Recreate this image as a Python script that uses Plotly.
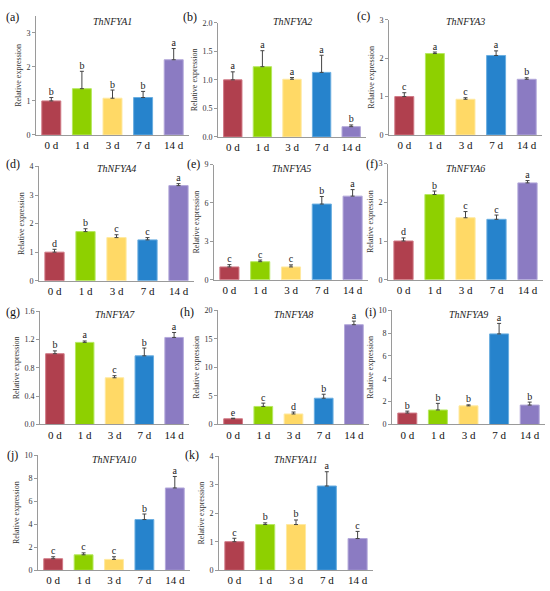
import plotly.graph_objects as go

# categories and bar colours
days = ["0 d", "1 d", "3 d", "7 d", "14 d"]
bar_colors = ["#B0404E", "#8ED000", "#FFD966", "#2683CC", "#8B7BC2"]
edge_colors = ["#D07885", "#B5E860", "#FFE9A0", "#6AAEE0", "#B3A8DA"]

genes = ["ThNFYA1", "ThNFYA2", "ThNFYA3", "ThNFYA4", "ThNFYA5", "ThNFYA6",
         "ThNFYA7", "ThNFYA8", "ThNFYA9", "ThNFYA10", "ThNFYA11"]
panel_labels = ["(a)", "(b)", "(c)", "(d)", "(e)", "(f)", "(g)", "(h)", "(i)", "(j)", "(k)"]

# mean relative expression per gene (0 d, 1 d, 3 d, 7 d, 14 d)
means = [
    [1.00, 1.36, 1.08, 1.10, 2.21],
    [1.00, 1.23, 1.01, 1.13, 0.18],
    [1.00, 2.12, 0.93, 2.07, 1.45],
    [1.00, 1.72, 1.51, 1.43, 3.33],
    [1.00, 1.41, 1.00, 5.91, 6.53],
    [1.00, 2.20, 1.60, 1.56, 2.50],
    [1.00, 1.16, 0.66, 0.97, 1.23],
    [1.00, 3.16, 1.84, 4.60, 17.47],
    [1.00, 1.27, 1.63, 7.93, 1.70],
    [1.00, 1.34, 0.94, 4.40, 7.14],
    [1.00, 1.60, 1.60, 2.95, 1.11],
]

# standard deviations (upper error bars)
errors = [
    [0.10, 0.51, 0.24, 0.18, 0.33],
    [0.14, 0.28, 0.03, 0.30, 0.03],
    [0.10, 0.04, 0.04, 0.12, 0.04],
    [0.10, 0.10, 0.10, 0.08, 0.07],
    [0.18, 0.13, 0.16, 0.59, 0.51],
    [0.08, 0.09, 0.16, 0.11, 0.06],
    [0.04, 0.02, 0.03, 0.11, 0.07],
    [0.10, 0.58, 0.34, 0.70, 0.63],
    [0.17, 0.58, 0.09, 0.92, 0.26],
    [0.17, 0.17, 0.23, 0.48, 1.00],
    [0.12, 0.06, 0.16, 0.50, 0.25],
]

# significance letters
letters = [
    ["b", "b", "b", "b", "a"],
    ["a", "a", "a", "a", "b"],
    ["c", "a", "c", "a", "b"],
    ["d", "b", "c", "c", "a"],
    ["c", "c", "c", "b", "a"],
    ["d", "b", "c", "c", "a"],
    ["b", "a", "c", "b", "a"],
    ["e", "c", "d", "b", "a"],
    ["b", "b", "b", "a", "b"],
    ["c", "c", "c", "b", "a"],
    ["c", "b", "b", "a", "c"],
]

# y axis ranges and tick steps
y_max = [3.5, 2.0, 3, 4, 9, 3, 1.6, 20, 10, 10, 4]
y_dtick = [1, 0.5, 1, 1, 3, 1, 0.4, 5, 2, 2, 1]
y_fmt = ["", ".1f", "", "", "", "", ".1f", "", "", "", ""]

# plot area boxes in pixels (left, right, top, bottom)
W, H = 550, 591
boxes = [
    (36, 189, 12, 133), (218, 366, 19, 135), (389, 542, 16, 133),
    (39, 194, 165, 281), (214, 368, 163, 280), (388, 543, 162, 280),
    (40, 189, 312, 427), (218, 369, 311, 427), (392, 545, 311, 427),
    (38, 190, 458, 575), (219, 373, 459, 575),
]
title_y = [18, 18, 18, 167, 167, 167, 315, 315, 315, 463, 463]
label_xy = [(12, 13), (190, 13), (363, 12), (13, 162), (193, 162), (372, 162),
            (13, 313), (187, 313), (370, 313), (12, 458), (192, 458)]

serif = "Liberation Serif"

fig = go.Figure()
annotations = []

for i, gene in enumerate(genes):
    n = "" if i == 0 else str(i + 1)
    xa, ya = "x" + n, "y" + n
    left, right, top, bottom = boxes[i]

    fig.add_trace(go.Bar(
        x=days, y=means[i], xaxis=xa, yaxis=ya,
        marker=dict(color=bar_colors, line=dict(color=edge_colors, width=1)),
        error_y=dict(type="data", symmetric=False, array=errors[i],
                     arrayminus=[0] * 5, color="#444", thickness=1, width=2),
        showlegend=False,
    ))
    tops = [m + e for m, e in zip(means[i], errors[i])]
    fig.add_trace(go.Scatter(
        x=days, y=tops, xaxis=xa, yaxis=ya, mode="text", text=letters[i],
        textposition="top center", textfont=dict(family=serif, size=10, color="#222"),
        cliponaxis=False, showlegend=False, hoverinfo="skip",
    ))

    fig.update_layout(**{
        "xaxis" + n: dict(
            domain=[left / W, right / W], anchor=ya, range=[-0.5, 4.5],
            showline=True, linecolor="#9a9a9a", linewidth=1, ticks="",
            tickfont=dict(family=serif, size=11, color="#111"),
        ),
        "yaxis" + n: dict(
            domain=[1 - bottom / H, 1 - top / H], anchor=xa, range=[0, y_max[i]],
            dtick=y_dtick[i], tick0=0, tickformat=y_fmt[i],
            showline=True, linecolor="#9a9a9a", linewidth=1, showgrid=False,
            zeroline=False, ticks="outside", ticklen=3, tickcolor="#9a9a9a",
            tickfont=dict(family=serif, size=8, color="#333"),
            title=dict(text="Relative expression", standoff=3,
                       font=dict(family=serif, size=8, color="#333")),
        ),
    })

    annotations.append(dict(
        text="<i>" + gene + "</i>", xref="paper", yref="paper",
        x=(left + right) / 2 / W, y=1 - title_y[i] / H, showarrow=False,
        xanchor="center", yanchor="middle",
        font=dict(family=serif, size=10, color="#222"),
    ))
    lx, ly = label_xy[i]
    annotations.append(dict(
        text=panel_labels[i], xref="paper", yref="paper",
        x=lx / W, y=1 - ly / H, showarrow=False,
        xanchor="center", yanchor="middle",
        font=dict(family=serif, size=12, color="#111"),
    ))

fig.update_layout(
    width=W, height=H, margin=dict(l=0, r=0, t=0, b=0),
    paper_bgcolor="white", plot_bgcolor="white",
    bargap=0.38, annotations=annotations,
)

# drop the browser's default page margin so the figure sits at the window corner
fig.write_html("out.html", config={"displayModeBar": False},
               post_script="document.body.style.margin='0';")
